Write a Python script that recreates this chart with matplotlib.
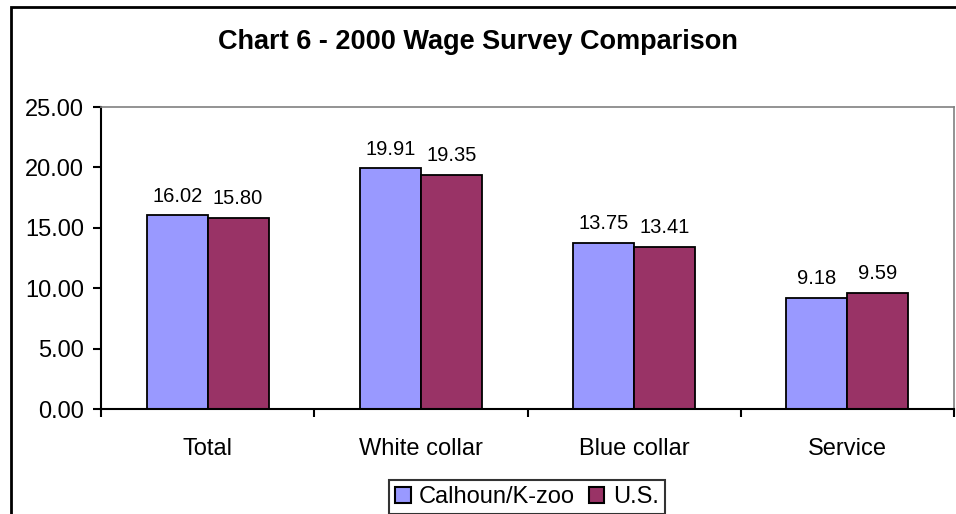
import matplotlib.pyplot as plt
import numpy as np
from matplotlib.patches import Rectangle

plt.rcParams['font.family'] = ['Liberation Sans', 'DejaVu Sans']

# data
categories = ['Total', 'White collar', 'Blue collar', 'Service']
calhoun = [16.02, 19.91, 13.75, 9.18]
us = [15.80, 19.35, 13.41, 9.59]
series_names = ['Calhoun/K-zoo', 'U.S.']

fig = plt.figure(figsize=(9.56, 5.14), dpi=100)
ax = fig.add_axes([101/956, 1 - 409/514, (954 - 101)/956, (409 - 107)/514])

x = np.arange(len(categories))
w = 0.286
b1 = ax.bar(x - w/2, calhoun, w, color='#9999ff', edgecolor='black', linewidth=1.3, label=series_names[0])
b2 = ax.bar(x + w/2, us, w, color='#993366', edgecolor='black', linewidth=1.3, label=series_names[1])

for bars, vals in [(b1, calhoun), (b2, us)]:
    for r, v in zip(bars, vals):
        ax.annotate('%.2f' % v, (r.get_x() + r.get_width()/2, v),
                    xytext=(0, 14), textcoords='offset points',
                    ha='center', va='center', fontsize=14.5)

ax.set_xlim(-0.5, len(categories) - 0.5)
ax.set_ylim(0, 25)
ax.set_yticks(np.arange(0, 26, 5))
ax.set_yticklabels(['%.2f' % t for t in np.arange(0, 26, 5)], fontsize=17)
ax.set_xticks(np.arange(-0.5, len(categories), 1.0))
ax.set_xticklabels([])
ax.set_xticks(x, minor=True)
ax.set_xticklabels(categories, minor=True, fontsize=17)
ax.tick_params(axis='x', which='minor', length=0, pad=21)
ax.tick_params(axis='x', which='major', direction='out', length=6, width=1.5)
ax.tick_params(axis='y', direction='out', length=6, width=1.5, pad=6)

ax.spines['left'].set_linewidth(1.5)
ax.spines['bottom'].set_linewidth(1.5)
ax.spines['top'].set_color('#808080')
ax.spines['right'].set_color('#808080')
ax.spines['top'].set_linewidth(1.2)
ax.spines['right'].set_linewidth(1.2)

fig.text(0.5, 1 - 42/514, 'Chart 6 - 2000 Wage Survey Comparison',
         ha='center', va='center', fontsize=19.5, fontweight='bold')

leg = fig.legend(loc='center', bbox_to_anchor=(527/956, 1 - 497/514), ncol=2,
                 fontsize=17, frameon=True, fancybox=False, edgecolor='black',
                 handlelength=0.65, handleheight=0.65, handletextpad=0.35,
                 columnspacing=0.6, borderpad=0.25, borderaxespad=0)
leg.get_frame().set_linewidth(1.5)
for h in leg.legend_handles:
    h.set_linewidth(1.5)

# outer chart border
fig.patches.append(Rectangle((11/956, -0.05), 1.0, 1 - 7/514 + 0.05,
                             transform=fig.transFigure, fill=False,
                             edgecolor='black', linewidth=2, zorder=0))

fig.savefig('out.png', dpi=100)
